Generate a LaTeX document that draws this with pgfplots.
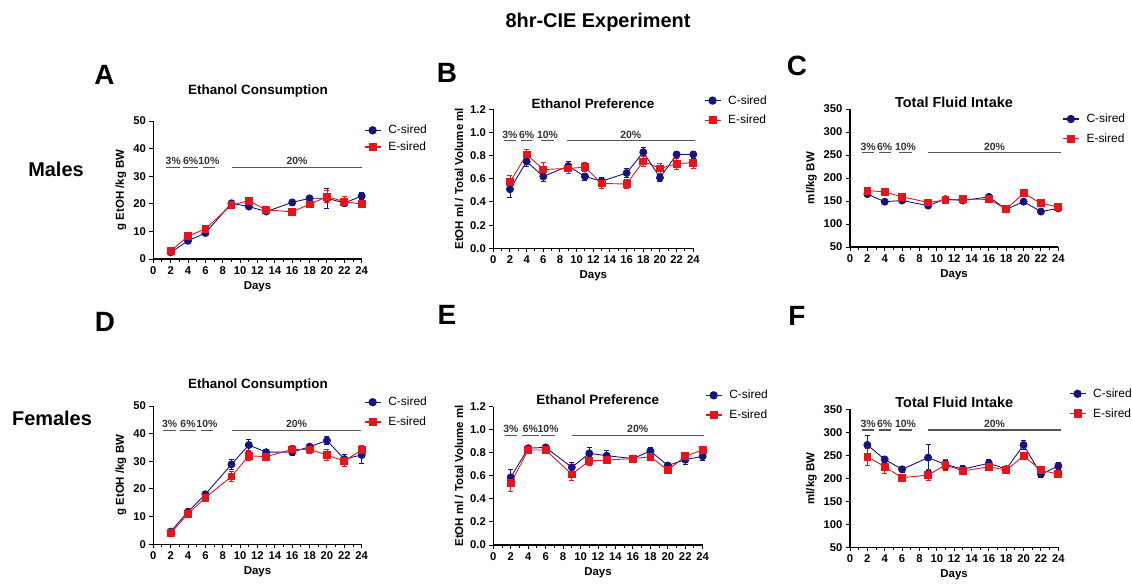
\documentclass[border=0pt]{standalone}
\usepackage{fontspec}
\setmainfont{Liberation Sans}
\usepackage{pgfplots}
\pgfplotsset{compat=1.18}
\usepackage{pgfplotstable}

\definecolor{csired}{HTML}{15157F}
\definecolor{esired}{HTML}{E8141B}
\definecolor{concgray}{HTML}{555555}
\newcommand{\fs}[1]{\fontsize{#1}{#1}\selectfont}

% Males, ethanol consumption (g/kg)
\pgfplotstableread{
day y e
2 2.4 0.5
4 6.6 0.6
6 9.4 0.6
9 20.2 0.8
11 19.0 0.8
13 17.2 0.8
16 20.5 1.2
18 22.0 0.8
20 22.0 3.5
22 20.3 0.8
24 22.8 1.2
}\AC
\pgfplotstableread{
day y e
2 2.9 0.5
4 8.3 0.6
6 10.9 0.8
9 19.6 1.0
11 21.1 1.0
13 17.8 1.0
16 17.1 1.2
18 19.8 1.0
20 22.6 2.2
22 20.8 1.8
24 19.9 1.2
}\AE
% Males, preference
\pgfplotstableread{
day y e
2 0.51 0.07
4 0.75 0.04
6 0.62 0.04
9 0.71 0.04
11 0.62 0.03
13 0.58 0.03
16 0.65 0.04
18 0.83 0.04
20 0.61 0.03
22 0.81 0.03
24 0.81 0.03
}\BC
\pgfplotstableread{
day y e
2 0.57 0.06
4 0.81 0.04
6 0.68 0.06
9 0.69 0.04
11 0.70 0.04
13 0.56 0.04
16 0.555 0.04
18 0.75 0.04
20 0.69 0.04
22 0.73 0.05
24 0.74 0.05
}\BE
% Males, total fluid
\pgfplotstableread{
day y e
2 165 4
4 148.5 3
6 151 4
9 140 4
11 154 4
13 151 4
16 159 4
18 132 3
20 148.5 4
22 127 3
24 134 4
}\CC
\pgfplotstableread{
day y e
2 172.5 4
4 170 4
6 159 4
9 147 4
11 152 4
13 154 4
16 153.6 4
18 132.6 3
20 166.7 6
22 145 6
24 137 4
}\CE
% Females, ethanol consumption
\pgfplotstableread{
day y e
2 4.6 0.8
4 11.8 0.8
6 18.1 0.8
9 28.9 1.8
11 35.9 2.2
13 33.3 1.0
16 33.3 1.2
18 35.3 1.0
20 37.5 1.4
22 30.8 1.8
24 32.3 3.0
}\DC
\pgfplotstableread{
day y e
2 4.0 0.8
4 11.0 0.8
6 16.9 0.8
9 24.5 1.8
11 32.0 1.8
13 31.7 1.0
16 34.3 1.6
18 34.3 1.4
20 32.3 2.0
22 30.1 1.8
24 34.1 1.8
}\DE
% Females, preference
\pgfplotstableread{
day y e
2 0.587 0.07
4 0.84 0.02
6 0.847 0.02
9 0.674 0.04
11 0.795 0.05
13 0.775 0.045
16 0.75 0.03
18 0.815 0.03
20 0.69 0.02
22 0.74 0.04
24 0.77 0.035
}\EC
\pgfplotstableread{
day y e
2 0.535 0.07
4 0.824 0.02
6 0.824 0.03
9 0.613 0.05
11 0.73 0.04
13 0.737 0.02
16 0.75 0.02
18 0.766 0.03
20 0.65 0.02
22 0.77 0.035
24 0.824 0.03
}\EE
% Females, total fluid
\pgfplotstableread{
day y e
2 272.5 20
4 241 6
6 219.6 7
9 245 28
11 230 10
13 220 7
16 232.6 9
18 220 5
20 272.5 9
22 208.7 6
24 226.8 8
}\FC
\pgfplotstableread{
day y e
2 247 18
4 225 14
6 201.4 5
9 207 12
11 229 12
13 216 6
16 225 7
18 218 5
20 248.5 8
22 218 5
24 208.7 5
}\FE

\pgfplotsset{
  panel/.style={
    scale only axis, anchor=south west, clip=false,
    axis lines=left, axis line style={-, line width=1.1bp},
    xmin=0, xmax=24, xtick={0,2,...,24}, minor x tick num=1,
    tick align=outside, tick style={black, line width=1bp},
    major tick length=4bp, minor tick length=2.5bp,
    /pgf/number format/assume math mode=true,
    ticklabel style={font=\bfseries\fs{11.3}},
    xticklabel style={inner xsep=0pt},
    label style={font=\bfseries\fs{11.5}},
    xlabel={Days},
    legend style={draw=none, fill=none, anchor=north west, inner sep=0pt,
      font=\fs{12}, row sep=5.5bp, nodes={inner sep=2bp},
      /tikz/every odd column/.append style={column sep=5bp}},
    legend cell align=left,
    legend image code/.code={\draw[mark repeat=2,mark phase=2,##1, line width=1.3bp]
      plot coordinates {(0bp,0bp) (8bp,0bp) (16bp,0bp)};},
  },
  cser/.style={color=csired, line width=0.9bp, mark=*, mark size=3.5bp,
    error bars/.cd, y dir=both, y explicit,
    error bar style={line width=0.8bp},
    error mark options={rotate=90, mark size=2.5bp, line width=0.8bp}},
  eser/.style={color=esired, line width=0.9bp, mark=square*, mark size=3.4bp,
    error bars/.cd, y dir=both, y explicit,
    error bar style={line width=0.8bp},
    error mark options={rotate=90, mark size=2.5bp, line width=0.8bp}},
}
\tikzset{
  concline/.style={concgray, line width=1.1bp},
  conclabel/.style={above, inner sep=1.5bp, font=\bfseries\fs{10.5}, text=black!80},
}
\newcommand{\conc}[4]{\draw[concline] (axis cs:#2,#1) -- node[conclabel]{#4} (axis cs:#3,#1);}

\begin{document}
\begin{tikzpicture}
\useasboundingbox (0,0) rectangle (1132bp,-584bp);

\node[font=\bfseries\fs{20}] at (598bp,-22bp) {8hr-CIE Experiment};
\node[font=\bfseries\fs{20}] at (56bp,-169bp) {Males};
\node[font=\bfseries\fs{20}] at (52bp,-418bp) {Females};
\foreach \l/\x/\y in {A/104.5/75, B/447/73, C/797/66, D/105/322, E/447/315, F/797/316}
  \node[font=\bfseries\fs{28}] at (\x bp,-\y bp) {\l};
\node[font=\bfseries\fs{13.5}] at (258bp,-90.7bp) {Ethanol Consumption};
\node[font=\bfseries\fs{13.5}] at (593bp,-103.3bp) {Ethanol Preference};
\node[font=\bfseries\fs{14.5}] at (954bp,-102.7bp) {Total Fluid Intake};
\node[font=\bfseries\fs{13.5}] at (258bp,-385bp) {Ethanol Consumption};
\node[font=\bfseries\fs{13.5}] at (597.7bp,-400bp) {Ethanol Preference};
\node[font=\bfseries\fs{14.5}] at (954.3bp,-402.7bp) {Total Fluid Intake};

% A
\begin{axis}[panel, at={(153.3bp,-259bp)}, width=208.4bp, height=138bp,
  ymin=0, ymax=50, ytick={0,10,...,50}, ylabel={g EtOH /kg BW},
  legend style={at={(axis description cs:1.01,0.985)}, row sep=2.5bp}]
\addplot[cser] table[x=day, y=y, y error=e] {\AC};
\addplot[eser] table[x=day, y=y, y error=e] {\AE};
\legend{C-sired, E-sired}
\conc{33.3}{1.5}{3.1}{3\%}
\conc{33.3}{3.4}{5.2}{6\%}
\conc{33.3}{5.7}{7.1}{10\%}
\conc{33.3}{9.1}{24}{20\%}
\end{axis}

% B
\begin{axis}[panel, at={(493.3bp,-248.3bp)}, width=200bp, height=139bp,
  ymin=0, ymax=1.2, ytick={0,0.2,...,1.2},
  yticklabel style={/pgf/number format/.cd, fixed, fixed zerofill, precision=1},
  ylabel={EtOH ml / Total Volume ml},
  legend style={at={(axis description cs:1.052,1.115)}}]
\addplot[cser] table[x=day, y=y, y error=e] {\BC};
\addplot[eser] table[x=day, y=y, y error=e] {\BE};
\legend{C-sired, E-sired}
\conc{0.93}{1.3}{2.7}{3\%}
\conc{0.93}{3.3}{4.7}{6\%}
\conc{0.93}{5.7}{7.3}{10\%}
\conc{0.93}{8.8}{24.2}{20\%}
\end{axis}

% C
\begin{axis}[panel, at={(850bp,-247bp)}, width=208.3bp, height=138bp,
  ymin=50, ymax=350, ytick={50,100,...,350}, ylabel={ml/kg BW},
  legend style={at={(axis description cs:1.018,0.98)}}]
\addplot[cser] table[x=day, y=y, y error=e] {\CC};
\addplot[eser] table[x=day, y=y, y error=e] {\CE};
\legend{C-sired, E-sired}
\conc{255}{1.4}{2.8}{3\%}
\conc{255}{3.3}{4.7}{6\%}
\conc{255}{5.7}{7.1}{10\%}
\conc{255}{9}{24.3}{20\%}
\end{axis}

% D
\begin{axis}[panel, at={(153.3bp,-544.3bp)}, width=208.4bp, height=138.3bp,
  ymin=0, ymax=50, ytick={0,10,...,50}, ylabel={g EtOH /kg BW},
  legend style={at={(axis description cs:1.01,1.08)}}]
\addplot[cser] table[x=day, y=y, y error=e] {\DC};
\addplot[eser] table[x=day, y=y, y error=e] {\DE};
\legend{C-sired, E-sired}
\conc{41.3}{1.15}{2.6}{3\%}
\conc{41.3}{3.1}{4.9}{6\%}
\conc{41.3}{5.45}{6.9}{10\%}
\conc{41.3}{9.1}{23.9}{20\%}
\end{axis}

% E
\begin{axis}[panel, at={(493.3bp,-545bp)}, width=209.4bp, height=138.3bp,
  ymin=0, ymax=1.2, ytick={0,0.2,...,1.2},
  yticklabel style={/pgf/number format/.cd, fixed, fixed zerofill, precision=1},
  ylabel={EtOH ml / Total Volume ml},
  legend style={at={(axis description cs:1.01,1.135)}}]
\addplot[cser] table[x=day, y=y, y error=e] {\EC};
\addplot[eser] table[x=day, y=y, y error=e] {\EE};
\legend{C-sired, E-sired}
\conc{0.954}{1.3}{2.75}{3\%}
\conc{0.954}{3.3}{5.2}{6\%}
\conc{0.954}{5.5}{7.07}{10\%}
\conc{0.954}{9}{24.1}{20\%}
\end{axis}

% F
\begin{axis}[panel, at={(850bp,-547.3bp)}, width=208.3bp, height=138bp,
  ymin=50, ymax=350, ytick={50,100,...,350}, ylabel={ml/kg BW},
  legend style={at={(axis description cs:1.05,1.165)}}]
\addplot[cser] table[x=day, y=y, y error=e] {\FC};
\addplot[eser] table[x=day, y=y, y error=e] {\FE};
\legend{C-sired, E-sired}
\conc{305}{1.4}{2.8}{3\%}
\conc{305}{3.3}{4.7}{6\%}
\conc{305}{5.7}{7.1}{10\%}
\conc{305}{9}{24.3}{20\%}
\end{axis}
\end{tikzpicture}
\end{document}
